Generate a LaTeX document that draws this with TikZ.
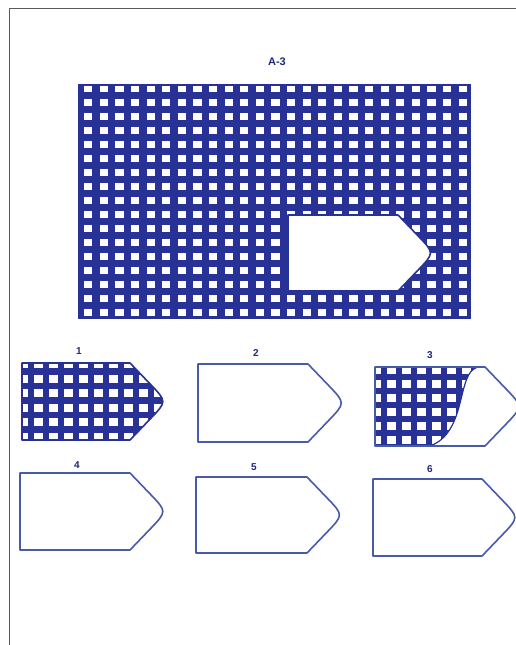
\documentclass[tikz,border=0pt]{standalone}
\usepackage{fontspec}
\setmainfont{Liberation Sans}
\definecolor{gridblue}{RGB}{40,50,150}
\definecolor{lineblue}{RGB}{72,90,170}
\definecolor{pageline}{RGB}{90,90,90}
\tikzset{
  lbl/.style={font=\fontsize{10}{12}\selectfont\bfseries, text=gridblue!80!black, inner sep=0pt},
  outl/.style={draw=lineblue, line width=1.6pt, line join=round},
}
% \pentaset{name}{L}{T}{S}{B}
\newcommand\pentaset[5]{%
  \pgfmathsetmacro\pH{#5-#3}%
  \pgfmathsetmacro\pW{0.48*\pH}%
  \pgfmathsetmacro\pM{(#3+#5)/2}%
  \pgfmathsetmacro\pAx{#4+0.55*\pW}%
  \pgfmathsetmacro\pAy{#3+0.275*\pH}%
  \pgfmathsetmacro\pBy{#5-0.275*\pH}%
  \pgfmathsetmacro\pCx{#4+\pW}%
  \coordinate (#1-tl) at (#2,#3);
  \coordinate (#1-tr) at (#4,#3);
  \coordinate (#1-p1) at (\pAx,\pAy);
  \coordinate (#1-c) at (\pCx,\pM);
  \coordinate (#1-p2) at (\pAx,\pBy);
  \coordinate (#1-br) at (#4,#5);
  \coordinate (#1-bl) at (#2,#5);
}
\newcommand\pentapath[1]{(#1-tl) -- (#1-tr) -- (#1-p1) .. controls (#1-c) .. (#1-p2) -- (#1-br) -- (#1-bl) -- cycle}
\begin{document}
\begin{tikzpicture}[x=1pt,y=-1pt]
\useasboundingbox (0,0) rectangle (516,645);
\fill[white] (0,0) rectangle (516,645);
% page border
\draw[pageline, line width=0.9pt] (9,645) -- (9,8) -- (516,8);

% title
\node[lbl, font=\fontsize{11}{13}\selectfont\bfseries] (title) at (277,62) {A-3};

% main grid
\begin{scope}
  \clip (79,85) rectangle (470,318);
  \fill[gridblue] (79,85) rectangle (470,318);
  \foreach \i in {0,...,24} {
    \foreach \j in {0,...,16} {
      \fill[white] ({88.3+15.6*\i-4.1},{88.6+14*\j-3.6}) rectangle ++(8.2,7.2);
    }
  }
\end{scope}
\draw[gridblue, line width=2pt] (79,85) rectangle (470,318);
\pentaset{cut}{288}{215}{398}{291}
\filldraw[fill=white, draw=gridblue, line width=1.6pt, line join=round] \pentapath{cut};

% option 1
\pentaset{o1}{22}{363}{130}{440}
\begin{scope}
  \clip \pentapath{o1};
  \fill[gridblue] (15,355) rectangle (175,450);
  \foreach \i in {0,...,9} {
    \foreach \j in {0,...,5} {
      \fill[white] ({23.3+15*\i-4.4},{364+14.6*\j-4}) rectangle ++(8.8,8);
    }
  }
\end{scope}
\draw[draw=gridblue, line width=1.6pt, line join=round] \pentapath{o1};
\node[lbl] (l1) at (79,351) {1};

% option 2
\pentaset{o2}{198}{364}{308}{442}
\draw[outl] \pentapath{o2};
\node[lbl] (l2) at (256,353) {2};

% option 3
\pentaset{o3}{375}{367}{485}{446}
\begin{scope}
  \clip \pentapath{o3};
  \clip (370,360) -- (478,360) -- (478,367) .. controls (456,372) and (468,432) .. (430,446) -- (430,452) -- (370,452) -- cycle;
  \fill[gridblue] (370,360) rectangle (490,452);
  \foreach \i in {0,...,7} {
    \foreach \j in {0,...,5} {
      \fill[white] ({376.5+15*\i-4.4},{369.5+14.1*\j-4}) rectangle ++(8.8,8);
    }
  }
\end{scope}
\draw[gridblue, line width=1.2pt] (478,367) .. controls (456,372) and (468,432) .. (430,446);
\draw[outl] \pentapath{o3};
\node[lbl] (l3) at (430,355) {3};

% option 4
\pentaset{o4}{20}{473}{130}{550}
\draw[outl] \pentapath{o4};
\node[lbl] (l4) at (77,465) {4};

% option 5
\pentaset{o5}{196}{477}{307}{553}
\draw[outl] \pentapath{o5};
\node[lbl] (l5) at (254,467) {5};

% option 6
\pentaset{o6}{373}{479}{482}{556}
\draw[outl] \pentapath{o6};
\node[lbl] (l6) at (430,469) {6};
\end{tikzpicture}
\end{document}
